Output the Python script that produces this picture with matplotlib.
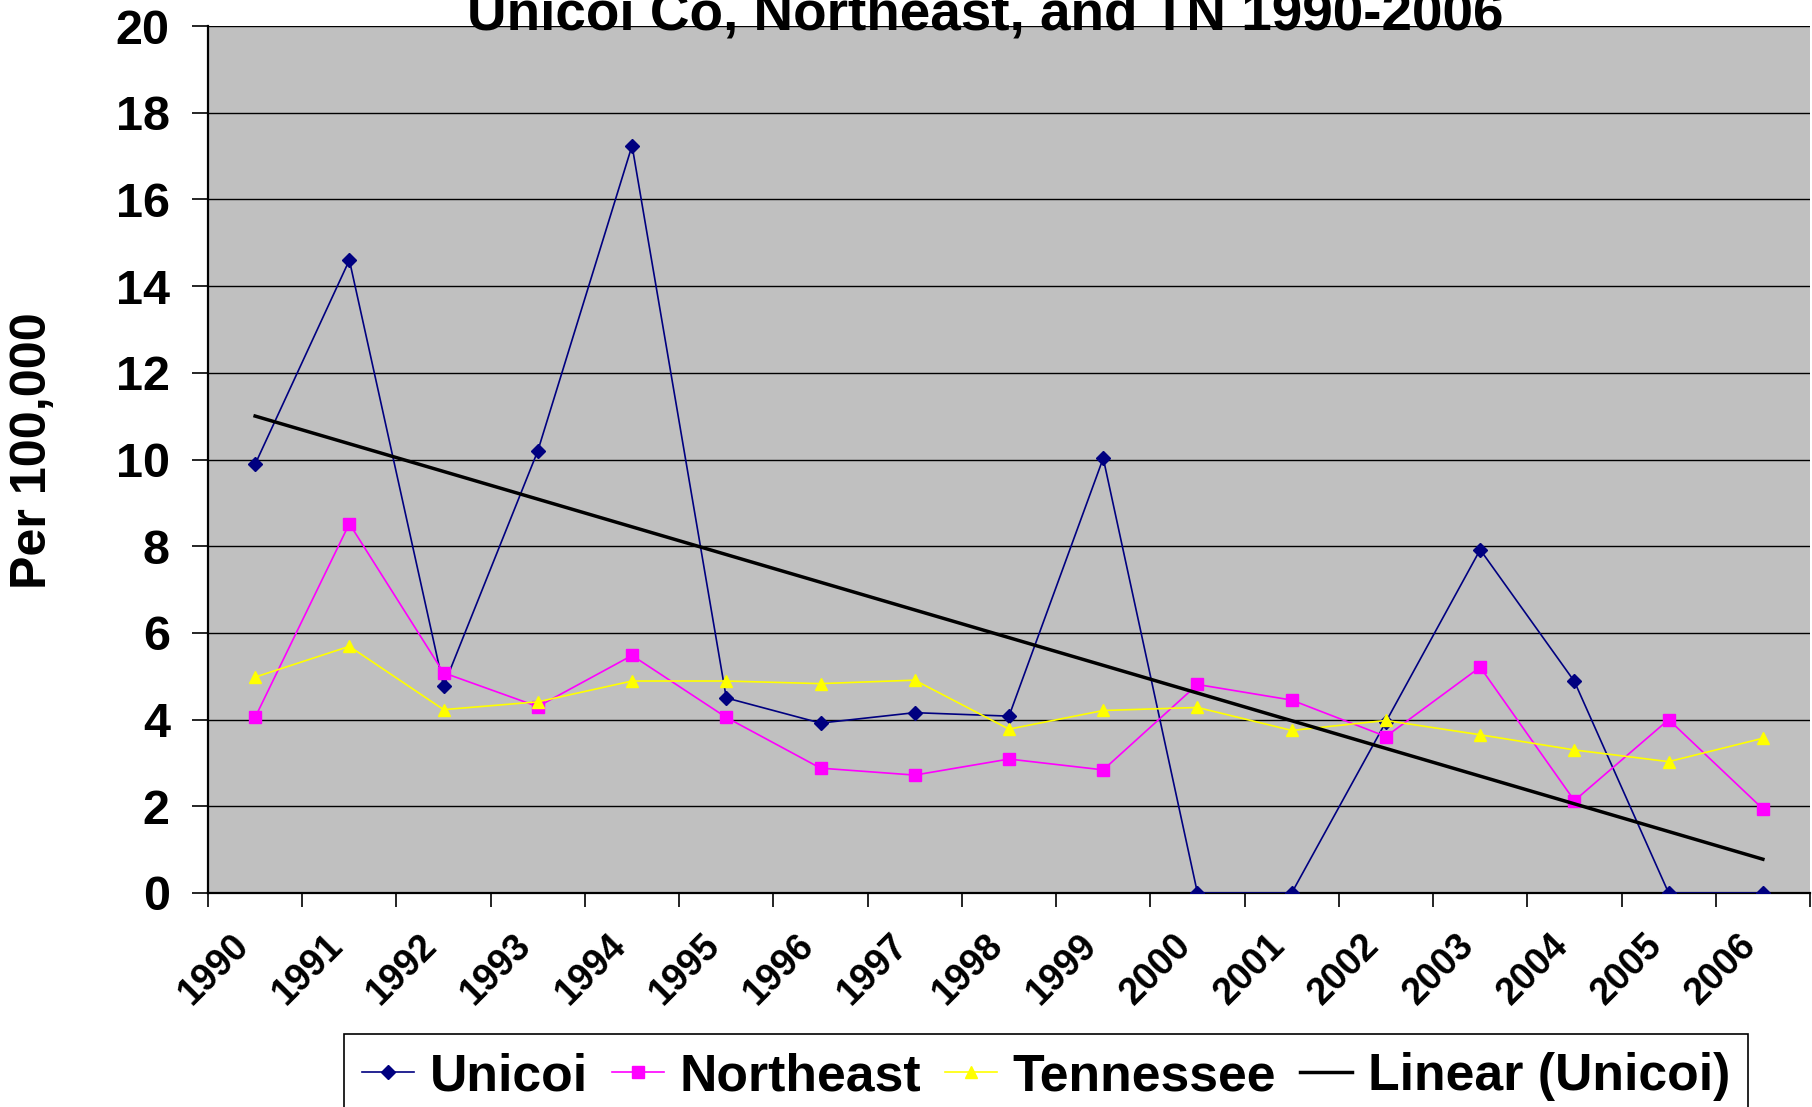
import numpy as np
import matplotlib
matplotlib.use('Agg')
import matplotlib.pyplot as plt
from matplotlib.transforms import ScaledTranslation

# ---- data ----
years = ['1990', '1991', '1992', '1993', '1994', '1995', '1996', '1997', '1998',
         '1999', '2000', '2001', '2002', '2003', '2004', '2005', '2006']
unicoi = [9.89, 14.6, 4.77, 10.2, 17.24, 4.5, 3.92, 4.16, 4.08,
          10.03, 0, 0, 3.95, 7.92, 4.88, 0, 0]
northeast = [4.05, 8.52, 5.08, 4.3, 5.48, 4.05, 2.88, 2.72, 3.09,
             2.84, 4.81, 4.45, 3.61, 5.21, 2.13, 4.0, 1.94]
tennessee = [4.98, 5.69, 4.23, 4.41, 4.89, 4.89, 4.83, 4.91, 3.78,
             4.21, 4.28, 3.75, 3.98, 3.65, 3.3, 3.03, 3.57]
y_ticks = [0, 2, 4, 6, 8, 10, 12, 14, 16, 18, 20]
series_names = ['Unicoi', 'Northeast', 'Tennessee', 'Linear (Unicoi)']
title = 'Unicoi Co, Northeast, and TN 1990-2006'
ylabel = 'Per 100,000'

plt.rcParams['font.family'] = ['Liberation Sans', 'DejaVu Sans']
plt.rcParams['font.weight'] = 'bold'

W, H = 1812, 1107
fig = plt.figure(figsize=(W / 100, H / 100), dpi=100)
left, right, top, bottom = 208, 1810, 26, 893
ax = fig.add_axes([left / W, 1 - bottom / H, (right - left) / W, (bottom - top) / H])
ax.set_facecolor('#C0C0C0')

x = np.arange(len(years))
coef = np.polyfit(x, unicoi, 1)
trend = np.polyval(coef, x)

l1, = ax.plot(x, unicoi, color='#000080', lw=1.2, marker='D', ms=7,
              mfc='#000080', mec='#000080', zorder=3)
l2, = ax.plot(x, northeast, color='#FF00FF', lw=1.2, marker='s', ms=8,
              mfc='#FF00FF', mec='#FF00FF', zorder=4)
l3, = ax.plot(x, tennessee, color='#FFFF00', lw=1.2, marker='^', ms=9,
              mfc='#FFFF00', mec='#FFFF00', zorder=5)
l4, = ax.plot(x, trend, color='black', lw=2.5, zorder=6)

ax.set_xlim(-0.5, len(years) - 0.5)
ax.set_ylim(0, 20)
ax.set_yticks(y_ticks)
ax.set_yticklabels([str(v) for v in y_ticks])
ax.yaxis.grid(True, color='black', lw=1.0)
ax.set_axisbelow(True)

for s in ['top', 'right']:
    ax.spines[s].set_visible(False)
ax.spines['left'].set_linewidth(1.6)
ax.spines['bottom'].set_linewidth(1.6)

ax.tick_params(axis='y', length=11.5, width=1.2, pad=16, labelsize=35)
ax.set_xticks(x)
ax.set_xticklabels(years, rotation=45, ha='right', va='center',
                   rotation_mode='anchor', fontsize=27)
ax.set_xticks(np.arange(len(years) + 1) - 0.5, minor=True)
ax.tick_params(axis='x', which='major', length=0, pad=34)
ax.tick_params(axis='x', which='minor', length=10, width=1.2)
off = ScaledTranslation(-12 / 100, 0, fig.dpi_scale_trans)
for lab in ax.get_xticklabels():
    lab.set_transform(lab.get_transform() + off)

fig.text(985 / W, 1 - 30 / H, title, ha='center', va='baseline',
         fontsize=39.5, fontweight='bold', zorder=10)
fig.text(33 / W, 1 - 451 / H, ylabel, rotation=90, ha='center', va='center',
         fontsize=36.2, fontweight='bold')

leg = fig.legend([l1, l2, l3, l4], series_names, loc='upper left',
                 bbox_to_anchor=(344 / W, 1 - 1034 / H), ncol=4,
                 prop={'size': 37.3, 'weight': 'bold'}, frameon=True,
                 fancybox=False, edgecolor='black', framealpha=1,
                 handlelength=1.0, handletextpad=0.3, columnspacing=0.47,
                 borderpad=0.35, borderaxespad=0)
leg.get_frame().set_linewidth(1.2)

fig.savefig('out.png', dpi=100)
